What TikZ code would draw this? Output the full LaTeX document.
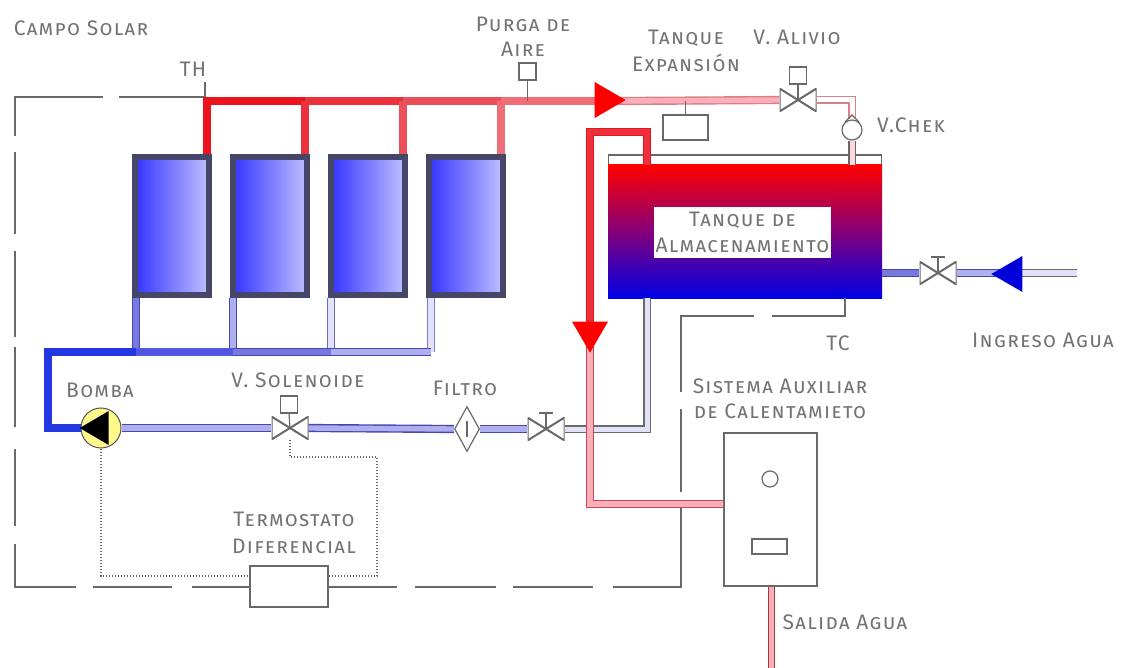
\documentclass[tikz,border=0pt]{standalone}
\usepackage{fontspec}
\setmainfont{Fira Sans}[LetterSpace=6]
\usetikzlibrary{positioning, shapes.geometric}
\definecolor{hotA}{RGB}{235,20,30}
\definecolor{hotB}{RGB}{235,50,60}
\definecolor{hotC}{RGB}{235,80,90}
\definecolor{hotD}{RGB}{240,110,120}
\definecolor{hotE}{RGB}{250,175,185}
\definecolor{hotEdge}{RGB}{205,70,85}
\definecolor{coldA}{RGB}{35,55,225}
\definecolor{coldB}{RGB}{85,85,225}
\definecolor{coldC}{RGB}{120,120,225}
\definecolor{coldD}{RGB}{175,175,240}
\definecolor{coldE}{RGB}{225,225,250}
\definecolor{coldEdge}{RGB}{70,70,175}
\definecolor{panelEdge}{RGB}{70,70,105}
\definecolor{wire}{RGB}{105,105,105}
\definecolor{ink}{RGB}{115,115,115}

\begin{document}
\begin{tikzpicture}[
        yscale=-1,
        x=1pt,
        y=1pt,
        every node/.style={font=\fontsize{21}{27}\selectfont\scshape, text=ink, align=center, inner sep=0pt},
        pipe/.style 2 args={draw=#1, double=#2, line width=1.4pt, double distance=5.4pt},
        thinpipe/.style 2 args={draw=#1, double=#2, line width=1.2pt, double distance=5pt},
        collector/.style={rectangle, draw=panelEdge, line width=6pt, left color=blue!80!white, right color=blue!25!white, minimum width=74pt, minimum height=138pt},
        valve/.style={rectangle, fill=white, minimum width=37pt, minimum height=23pt, path picture={
            \draw[wire, line width=2pt] (path picture bounding box.north west) -- (path picture bounding box.south east) -- (path picture bounding box.north east) -- (path picture bounding box.south west) -- cycle;
        }},
        part/.style={rectangle, draw=wire, fill=white, line width=1.2pt},
        flow/.style={isosceles triangle, isosceles triangle apex angle=60, isosceles triangle stretches, minimum height=31pt, minimum width=36pt, text=black},
        ctrl/.style={draw=wire, line width=1.3pt},
        signal/.style={draw=wire, line width=1.2pt, dash pattern=on 1.6pt off 1.4pt}
    ]
    \useasboundingbox (0,0) rectangle (1121,668);

    % panels and tanks
    \node[collector] (colA) at (171.5,226) {};
    \node[collector] (colB) at (269.5,226) {};
    \node[collector] (colC) at (367.5,226) {};
    \node[collector] (colD) at (465.5,226) {};
    \node[rectangle, draw=wire, line width=1.2pt, minimum width=273pt, minimum height=142pt] (shell) at (745,226) {};
    \node[rectangle, top color=red, bottom color=blue!90!black, middle color=red!52!blue, minimum width=274pt, minimum height=133pt] (store) at (745,231.5) {};
    \node[rectangle, fill=white, minimum width=177pt, minimum height=51pt] (storeLabel) at (742.5,232.5) {Tanque de\\[-1pt]Almacenamiento};
    \node[part, minimum width=93pt, minimum height=153pt] (heater) at (770.5,509.5) {};
    \node[circle, draw=wire, line width=1.2pt, minimum size=16pt] (heaterDial) at (770,479) {};
    \node[part, minimum width=35pt, minimum height=15pt] (heaterSlot) at (769.5,546.5) {};
    \node[part, minimum width=78pt, minimum height=41pt] (thermo) at (289,586.5) {};
    \node[part, minimum width=45pt, minimum height=25pt] (expansion) at (685.5,127.5) {};

    % fittings
    \node[valve] (valveSol) at (290,428) {};
    \node[valve] (valveMan) at (546,429) {};
    \node[valve] (valveRel) at (798,100) {};
    \node[valve] (valveIn) at (938,273) {};
    \node[part, minimum size=17pt] (boxSol) at (289,404.5) {};
    \node[part, minimum size=17pt] (boxRel) at (798,75.5) {};
    \node[part, minimum size=17pt] (boxAir) at (527.5,71.5) {};
    \node[diamond, draw=wire, fill=white, line width=1.2pt, minimum width=25pt, minimum height=45pt] (filter) at (467,429) {};
    \node[circle, draw=wire, fill=white, line width=1.2pt, minimum size=20pt] (check) at (852,130) {};
    \node[circle, draw=wire!80!black, fill=yellow!45!white, line width=1pt, minimum size=40pt] (pump) at (101,428) {};

    % ends and joints
    \coordinate (thTick) at (205,82);
    \coordinate (thEnd) at (205,97);
    \coordinate (hotAB) at (305,101);
    \coordinate (hotBC) at (403,101);
    \coordinate (hotCD) at (501,101);
    \coordinate (hotStart) at (207,101);
    \coordinate (hotTip) at (622,101);
    \coordinate (coldStart) at (48,352);
    \coordinate (coldAB) at (136,352);
    \coordinate (coldBC) at (233,352);
    \coordinate (coldCD) at (331,352);
    \coordinate (coldEnd) at (431,352);
    \coordinate (cornerBL) at (15,587);
    \coordinate (cornerTL) at (15,97);
    \coordinate (cornerBR) at (681,587);
    \coordinate (cornerTR) at (681,316);
    \coordinate (cornerTC) at (845,316);
    \coordinate (tcEnd) at (845,298);
    \coordinate (sigLeft) at (101,576);
    \coordinate (sigRight) at (377,576);
    \coordinate (sigTop) at (377,457);
    \coordinate (backBend) at (647,429);
    \coordinate (hotOutA) at (647,132);
    \coordinate (hotOutB) at (590,132);
    \coordinate (hotOutC) at (590,330);
    \coordinate (heatBend) at (590,504);
    \coordinate (reliefBend) at (852,100);
    \coordinate (inletMid) at (1000,273);
    \coordinate (inletThin) at (1020,273);
    \coordinate (inletEnd) at (1077,273);
    \coordinate (outletEnd) at (771.5,668);
    \coordinate (handleMan) at (546,413);
    \coordinate (handleIn) at (938,257);
    \coordinate (checkTip) at (852,115);

    % control lines
    \draw[ctrl, dash pattern=on 57pt off 20pt on 79pt off 17pt on 104pt off 18pt on 77pt off 22pt on 80pt off 10pt on 86pt off 17pt on 82pt off 16pt on 127pt off 16pt on 200pt off 0pt] (thermo.west |- cornerBL) -- (cornerBL) -- (cornerTL) -- (thEnd);
    \draw[ctrl] (thEnd) -- (thTick);
    \draw[ctrl, dash pattern=on 68pt off 18pt on 81pt off 17pt on 80pt off 20pt on 148pt off 15pt on 83pt off 17pt on 149pt off 18pt on 300pt off 0pt] (thermo.east |- cornerBR) -- (cornerBR) -- (cornerTR) -- (cornerTC) -- (tcEnd);
    \draw[signal] (pump.south) -- (sigLeft) -- (sigLeft -| thermo.west);
    \draw[signal] (sigRight -| thermo.east) -- (sigRight) -- (sigTop) -- (sigTop -| valveSol) -- (valveSol.south);

    % cold side
    \draw[pipe={coldEdge}{coldC}] (colA.south -| coldAB) -- (coldAB);
    \draw[pipe={coldEdge}{coldD}] (colB.south -| coldBC) -- (coldBC);
    \draw[pipe={coldEdge!80!white}{coldE}] (colC.south -| coldCD) -- (coldCD);
    \draw[pipe={coldEdge!70!white}{coldE}] (colD.south -| coldEnd) -- (coldEnd);
    \draw[pipe={coldA}{coldA}] (pump.west) -| (coldStart) -- (coldAB);
    \draw[pipe={coldA!80!white}{coldB}] (coldAB) -- (coldBC);
    \draw[pipe={coldEdge}{coldC}] (coldBC) -- (coldCD);
    \draw[pipe={coldEdge}{coldD}] (coldCD) -- (coldEnd);
    \draw[pipe={coldEdge}{coldD}] (pump.east) -- (valveSol.west);
    \draw[pipe={coldEdge}{coldD}] (valveSol.east) -- (filter.west);
    \draw[pipe={coldEdge}{coldD}] (filter.east) -- (valveMan.west);
    \draw[thinpipe={wire}{coldE}] (valveMan.east) -- (backBend) -- (backBend |- store.south);
    \draw[pipe={coldEdge}{coldC}] (store.east |- valveIn) -- (valveIn.west);
    \draw[pipe={coldEdge}{coldD}] (valveIn.east) -- (inletMid);
    \draw[thinpipe={wire}{coldE}] (inletThin) -- (inletEnd);

    % hot side
    \draw[pipe={hotA}{hotA}] (colA.north -| hotStart) -- (hotStart) -- (hotAB);
    \draw[pipe={hotB}{hotB}] (hotAB) -- (hotBC);
    \draw[pipe={hotC}{hotC}] (hotBC) -- (hotCD);
    \draw[pipe={hotD}{hotD}] (hotCD) -- (hotTip);
    \draw[pipe={hotB}{hotB}] (colB.north -| hotAB) -- (hotAB);
    \draw[pipe={hotC}{hotC}] (colC.north -| hotBC) -- (hotBC);
    \draw[pipe={hotD}{hotD}] (colD.north -| hotCD) -- (hotCD);
    \draw[pipe={hotEdge!70!white}{hotE}] (hotTip) -- (valveRel.west);
    \draw[thinpipe={hotEdge!70!white}{white}] (valveRel.east) -- (reliefBend) -- (check.north);
    \draw[thinpipe={wire}{hotE!50!white}] (check.south) -- (check.south |- store.north);
    \draw[pipe={hotA}{hotB}] (store.north -| backBend) -- (hotOutA) -- (hotOutB) -- (hotOutC);
    \draw[pipe={hotEdge}{hotE}] (hotOutC) -- (heatBend) -- (heatBend -| heater.west);
    \draw[thinpipe={hotEdge!80!black}{hotE}] (heater.south -| outletEnd) -- (outletEnd);

    % stems and handles
    \draw[wire, line width=1.2pt] (boxAir.south) -- (boxAir.south |- hotTip);
    \draw[wire, line width=1.2pt] (boxSol.south) -- (valveSol.center);
    \draw[wire, line width=1.2pt] (boxRel.south) -- (valveRel.center);
    \draw[wire, line width=1.2pt] (expansion.north) -- (expansion.north |- hotTip);
    \draw[wire, line width=1.2pt] (valveMan.center) -- (handleMan) ++(-7,0) -- ++(14,0);
    \draw[wire, line width=1.2pt] (valveIn.center) -- (handleIn) ++(-7,0) -- ++(14,0);
    \draw[wire, line width=1.2pt] (filter.center) ++(0,-8) -- ++(0,16);
    \draw[wire, line width=1.2pt] (check.130) -- (checkTip) -- (check.50);

    % flow arrows
    \node[flow, fill=red] (arrowHot) at (605,100) {};
    \node[flow, fill=red, shape border rotate=270] (arrowBack) at (590,332) {};
    \node[flow, fill=blue!85!black, shape border rotate=180] (arrowIn) at (1012,274) {};
    \node[flow, fill=black, shape border rotate=180, minimum height=29pt, minimum width=34pt] (arrowPump) at (99,428) {};

    % labels
    \node (campoLabel) at (81,28) {Campo Solar};
    \node (thLabel) at (193,69) {TH};
    \node (purgaLabel) at (523,37) {Purga de\\[-2pt]Aire};
    \node (tanqueLabel) at (686,51) {Tanque\\Expansión};
    \node (alivioLabel) at (797,37) {V. Alivio};
    \node (chekLabel) at (911,125) {V.Chek};
    \node (tcLabel) at (838,343) {TC};
    \node (ingresoLabel) at (1043,340) {Ingreso Agua};
    \node (bombaLabel) at (100,390) {Bomba};
    \node (solLabel) at (298,380) {V. Solenoide};
    \node (filtroLabel) at (465,388) {Filtro};
    \node (termoLabel) at (294,533) {Termostato\\Diferencial};
    \node (sistemaLabel) at (780,399) {Sistema Auxiliar\\[-2pt]de Calentamieto};
    \node (salidaLabel) at (845,622) {Salida Agua};
\end{tikzpicture}
\end{document}
